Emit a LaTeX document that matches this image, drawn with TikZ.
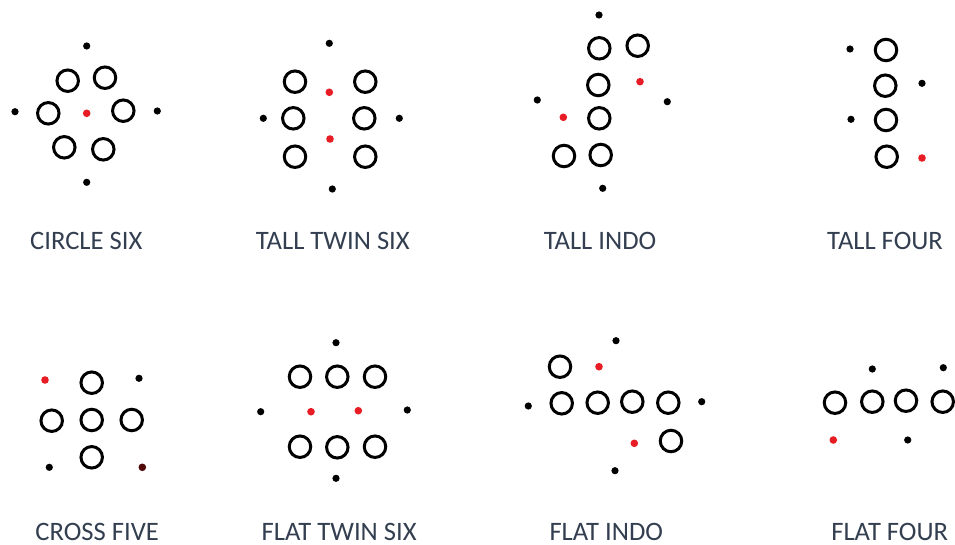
\documentclass[tikz,border=0pt]{standalone}
\usepackage{fontspec}
\setmainfont{Carlito}
\definecolor{lbl}{HTML}{333F50}
\definecolor{rd}{RGB}{232,28,36}
\definecolor{drd}{RGB}{80,8,8}
\begin{document}
\begin{tikzpicture}[x=1pt,y=-1pt,
  ring/.style={circle,draw=black,line width=3pt,minimum size=21.5pt,inner sep=0pt},
  bdot/.style={circle,fill=black,minimum size=7.2pt,inner sep=0pt},
  rdot/.style={circle,fill=rd,minimum size=7.6pt,inner sep=0pt},
  ddot/.style={circle,fill=drd,minimum size=7.6pt,inner sep=0pt},
  lab/.style={anchor=base,text=lbl,inner sep=0pt,font=\fontsize{26.6}{30}\selectfont}]
\useasboundingbox[fill=white] (0,0) rectangle (955,545);
% CIRCLE SIX
\node[bdot] (a1) at (86.7,46) {};
\node[ring] (a2) at (67.7,80.7) {};
\node[ring] (a3) at (105,77.7) {};
\node[bdot] (a4) at (15,111.7) {};
\node[ring] (a5) at (48.3,113.3) {};
\node[rdot] (a6) at (86.7,113.3) {};
\node[ring] (a7) at (123.3,110.7) {};
\node[bdot] (a8) at (157.3,111) {};
\node[ring] (a9) at (64.3,147.3) {};
\node[ring] (a10) at (103.3,149.3) {};
\node[bdot] (a11) at (86.7,182.3) {};
\node[lab] (la) at (86.3,250) {CIRCLE SIX};
% TALL TWIN SIX
\node[bdot] (b1) at (329.3,43.3) {};
\node[ring] (b2) at (295,81.7) {};
\node[ring] (b3) at (365.3,81.7) {};
\node[rdot] (b4) at (329.3,92.3) {};
\node[bdot] (b5) at (263.3,118.3) {};
\node[ring] (b6) at (293.3,118.3) {};
\node[ring] (b7) at (364.3,118.3) {};
\node[bdot] (b8) at (399.3,118.3) {};
\node[rdot] (b9) at (330,139) {};
\node[ring] (b10) at (295,156.7) {};
\node[ring] (b11) at (365.3,156.7) {};
\node[bdot] (b12) at (332.3,189) {};
\node[lab] (lb) at (332.8,250) {TALL TWIN SIX};
% TALL INDO
\node[bdot] (c1) at (599,15) {};
\node[ring] (c2) at (599.3,48.3) {};
\node[ring] (c3) at (637.7,45.7) {};
\node[ring] (c4) at (598.3,85) {};
\node[rdot] (c5) at (640,81.7) {};
\node[bdot] (c6) at (537.3,100) {};
\node[bdot] (c7) at (667.3,101.7) {};
\node[rdot] (c8) at (563.3,117.3) {};
\node[ring] (c9) at (599.3,118.3) {};
\node[ring] (c10) at (564,156) {};
\node[ring] (c11) at (600.7,155) {};
\node[bdot] (c12) at (602.7,188.3) {};
\node[lab] (lc) at (600,250) {TALL INDO};
% TALL FOUR
\node[bdot] (d1) at (850,49) {};
\node[ring] (d2) at (886,50) {};
\node[ring] (d3) at (885.3,85.7) {};
\node[bdot] (d4) at (922,83.3) {};
\node[bdot] (d5) at (851,119.3) {};
\node[ring] (d6) at (886,120) {};
\node[ring] (d7) at (886.7,156.7) {};
\node[rdot] (d8) at (922,158) {};
\node[lab] (ld) at (885,250) {TALL FOUR};
% CROSS FIVE
\node[rdot] (e1) at (45,380) {};
\node[ring] (e2) at (91.7,382.7) {};
\node[bdot] (e3) at (139,378.3) {};
\node[ring] (e4) at (51.7,420.7) {};
\node[ring] (e5) at (91.7,420) {};
\node[ring] (e6) at (131.7,420) {};
\node[ring] (e7) at (91.7,457.3) {};
\node[bdot] (e8) at (49.3,467.3) {};
\node[ddot] (e9) at (142.3,467.3) {};
\node[lab] (le) at (97.2,540) {CROSS FIVE};
% FLAT TWIN SIX
\node[bdot] (f1) at (336,342.7) {};
\node[ring] (f2) at (300,376.7) {};
\node[ring] (f3) at (337.3,376.7) {};
\node[ring] (f4) at (375,376.7) {};
\node[bdot] (f5) at (260.7,411.7) {};
\node[rdot] (f6) at (311,411.7) {};
\node[rdot] (f7) at (358.3,410.7) {};
\node[bdot] (f8) at (407.3,410) {};
\node[ring] (f9) at (300,446.7) {};
\node[ring] (f10) at (337.3,447.3) {};
\node[ring] (f11) at (375,446.7) {};
\node[bdot] (f12) at (336,478.3) {};
\node[lab] (lf) at (339.2,540) {FLAT TWIN SIX};
% FLAT INDO
\node[bdot] (g1) at (616,340.7) {};
\node[ring] (g2) at (560,366.7) {};
\node[rdot] (g3) at (599,366.7) {};
\node[bdot] (g4) at (528.3,406) {};
\node[ring] (g5) at (561.7,403.3) {};
\node[ring] (g6) at (597.7,402.7) {};
\node[ring] (g7) at (632.3,401.7) {};
\node[ring] (g8) at (668.3,402.7) {};
\node[bdot] (g9) at (701.7,401.7) {};
\node[rdot] (g10) at (634.3,443.3) {};
\node[ring] (g11) at (671,441) {};
\node[bdot] (g12) at (615,470.7) {};
\node[lab] (lg) at (606.3,540) {FLAT INDO};
% FLAT FOUR
\node[bdot] (h1) at (872.3,369) {};
\node[bdot] (h2) at (943.3,367.7) {};
\node[ring] (h3) at (835,402.7) {};
\node[ring] (h4) at (872.3,401.7) {};
\node[ring] (h5) at (906,400.7) {};
\node[ring] (h6) at (942.7,401.7) {};
\node[rdot] (h7) at (833.3,440) {};
\node[bdot] (h8) at (907.7,440) {};
\node[lab] (lh) at (889.7,540) {FLAT FOUR};
\end{tikzpicture}
\end{document}
